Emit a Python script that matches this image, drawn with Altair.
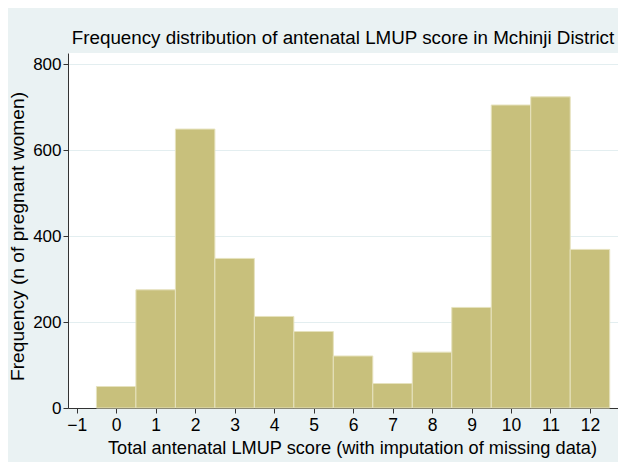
import altair as alt
import pandas as pd

scores = [0, 1, 2, 3, 4, 5, 6, 7, 8, 9, 10, 11, 12]
counts = [50, 275, 649, 348, 213, 178, 121, 57, 130, 234, 705, 724, 369]
x_ticks = [-1, 0, 1, 2, 3, 4, 5, 6, 7, 8, 9, 10, 11, 12]
y_ticks = [0, 200, 400, 600, 800]

df = pd.DataFrame({"score": scores, "count": counts})

FONT = "Liberation Sans"

bars = (
    alt.Chart(df)
    .transform_calculate(start="datum.score - 0.5", end="datum.score + 0.5")
    .mark_rect(fill="#C8C07C", stroke="#E6E2BE", strokeWidth=1)
    .encode(
        x=alt.X(
            "start:Q",
            scale=alt.Scale(domain=[-1.22, 12.71], nice=False, zero=False),
            axis=alt.Axis(
                values=x_ticks,
                title="Total antenatal LMUP score (with imputation of missing data)",
                labelExpr="replace(datum.label, '-', '\u2212')",
                grid=False,
                tickSize=5,
                labelPadding=3,
                titlePadding=6,
                labelFontSize=17.5,
                titleFontSize=18.2,
                titleX=284,
            ),
        ),
        x2="end:Q",
        y=alt.Y(
            "count:Q",
            scale=alt.Scale(domain=[0, 826], nice=False),
            axis=alt.Axis(
                values=y_ticks,
                title="Frequency (n of pregnant women)",
                grid=True,
                gridColor="#E3EEF0",
                tickSize=5,
                labelPadding=2,
                titlePadding=5,
                labelFontSize=17,
                titleFontSize=19.2,
                titleY=183,
            ),
        ),
        y2=alt.datum(0),
    )
)

chart = (
    bars.properties(
        width=550,
        height=355,
        title="Frequency distribution of antenatal LMUP score in Mchinji District",
        background="#EAF2F3",
        padding={"left": 60, "top": 45, "right": 0, "bottom": 54},
        autosize="none",
    )
    .configure_view(fill="white", stroke=None)
    .configure_axis(
        domainColor="#333333",
        tickColor="#333333",
        labelColor="#000000",
        titleColor="#000000",
        labelFont=FONT,
        titleFont=FONT,
        titleFontWeight="normal",
        domainWidth=1,
        tickWidth=1,
    )
    .configure_title(
        font=FONT, fontSize=18.8, fontWeight="normal", color="#000000",
        anchor="middle", offset=5,
    )
)

chart.save("out.html", embed_options={"renderer": "svg", "actions": False})
